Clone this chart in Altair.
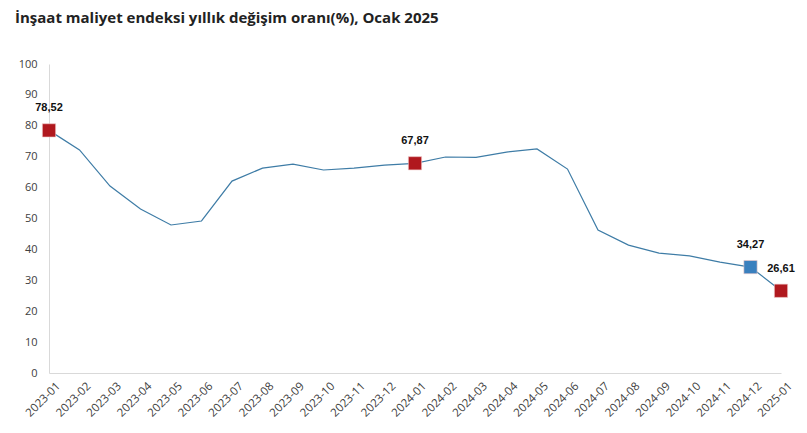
import altair as alt
import pandas as pd

months = ["2023-01", "2023-02", "2023-03", "2023-04", "2023-05", "2023-06",
          "2023-07", "2023-08", "2023-09", "2023-10", "2023-11", "2023-12",
          "2024-01", "2024-02", "2024-03", "2024-04", "2024-05", "2024-06",
          "2024-07", "2024-08", "2024-09", "2024-10", "2024-11", "2024-12",
          "2025-01"]
values = [78.52, 72.2, 60.5, 53.1, 47.9, 49.2,
          62.1, 66.3, 67.6, 65.7, 66.3, 67.3,
          67.87, 69.9, 69.8, 71.5, 72.5, 66.0,
          46.3, 41.4, 38.8, 37.9, 35.9, 34.27,
          26.61]

red_months = ["2023-01", "2024-01", "2025-01"]
blue_months = ["2024-12"]

df = pd.DataFrame({"ay": months, "deger": values})
df["etiket"] = df["deger"].map(lambda v: f"{v:.2f}".replace(".", ","))
df["grup"] = ["kirmizi" if m in red_months else ("mavi" if m in blue_months else "yok") for m in months]
hl = df[df["grup"] != "yok"]

x = alt.X("ay:N", sort=months, title=None,
          scale=alt.Scale(type="point", padding=0),
          axis=alt.Axis(labelAngle=-45, ticks=False, labelPadding=7, labelOffset=5,
                        labelFontSize=11.5, labelColor="#404040", labelFont="Open Sans",
                        domainColor="#d9d9d9", labelOverlap=False))
y = alt.Y("deger:Q", title=None,
          scale=alt.Scale(domain=[0, 100], nice=False),
          axis=alt.Axis(values=list(range(0, 101, 10)), grid=False, ticks=False,
                        labelPadding=12, labelFontSize=11, labelColor="#404040",
                        labelFont="Open Sans", domainColor="#d9d9d9"))

line = alt.Chart(df).mark_line(color="#3E7CA6", strokeWidth=1.2).encode(x=x, y=y)

pts = alt.Chart(hl).mark_point(shape="square", filled=True, size=175, opacity=1,
                               stroke="#f0c8c8", strokeWidth=0.6).encode(
    x=x, y=y,
    color=alt.Color("grup:N", scale=alt.Scale(domain=["kirmizi", "mavi"],
                                              range=["#B0181E", "#3A80BE"]), legend=None))

labels = alt.Chart(hl).mark_text(dy=-22, fontSize=11, fontWeight="bold",
                                 font="Liberation Sans", color="#111111").encode(
    x=x, y=y, text="etiket:N")

chart = (line + pts + labels).properties(
    width=732, height=309,
    title=alt.TitleParams("İnşaat maliyet endeksi yıllık değişim oranı(%), Ocak 2025",
                          anchor="start", frame="group", dx=-34, offset=32, fontSize=15,
                          font="Open Sans", fontWeight="bold", color="#222222"),
    autosize=alt.AutoSizeParams(type="none"),
    padding={"left": 41, "top": 56, "right": 18, "bottom": 52},
).configure_view(stroke=None)

chart.save("out.html", embed_options={"renderer": "svg", "actions": False})
